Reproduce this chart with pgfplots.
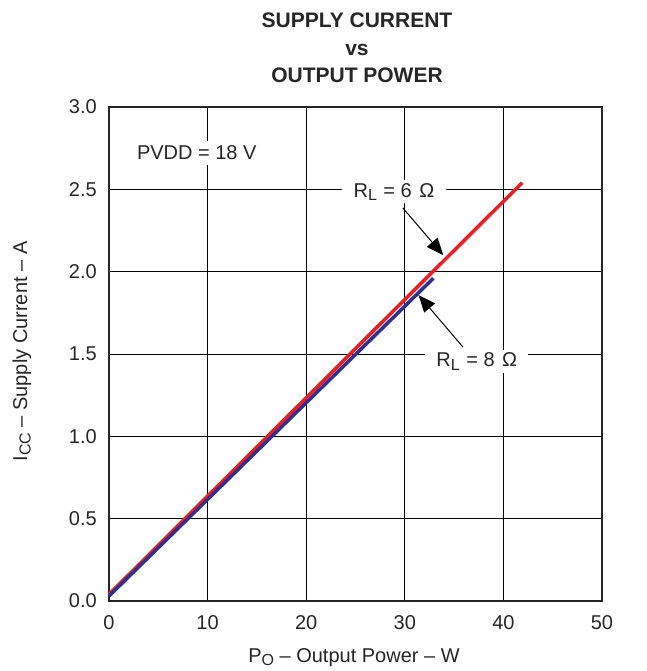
\documentclass[border=0pt]{standalone}
\usepackage{fontspec}
\setmainfont{Liberation Sans}
\usepackage{pgfplots}
\pgfplotsset{compat=1.18}
\usetikzlibrary{arrows.meta}
\definecolor{tired}{RGB}{236,30,36}
\definecolor{tiblue}{RGB}{46,49,146}
\newcommand{\sub}[1]{\raisebox{-0.32ex}{\fontsize{16bp}{18bp}\selectfont #1}}
\begin{document}
\begin{tikzpicture}
\useasboundingbox (-109bp,-70bp) rectangle (538bp,601bp);
\begin{axis}[
  at={(0,0)}, anchor=south west,
  scale only axis, width=493bp, height=494bp,
  xmin=0, xmax=50, ymin=0, ymax=3,
  xtick={0,10,20,30,40,50},
  ytick={0,0.5,1,1.5,2,2.5,3},
  yticklabels={0.0,0.5,1.0,1.5,2.0,2.5,3.0},
  major tick length=0pt,
  /pgf/number format/assume math mode=true,
  ticklabel style={font=\fontsize{20bp}{24bp}\selectfont, inner sep=0pt, text=black!85},
  xticklabel style={anchor=base, yshift=-28bp},
  yticklabel style={anchor=east, xshift=-12bp},
  grid=major,
  major grid style={black, line width=0.8bp},
  axis line style={line width=2.2bp, black!85},
  clip=false,
]
\addplot[tired, line width=3.5bp] coordinates {(0,0.04) (10,0.637) (20,1.234) (30,1.831) (41.9,2.54)};
\addplot[tiblue, line width=3.5bp] coordinates {(0,0.03) (10,0.617) (20,1.204) (32.9,1.96)};

\node[fill=white, inner xsep=6bp, inner ysep=5bp, font=\fontsize{20bp}{24bp}\selectfont, text=black!85] at (axis cs:8.9,2.72) {PVDD = 18 V};
\node[fill=white, inner xsep=12bp, inner ysep=3bp, font=\fontsize{20bp}{24bp}\selectfont, text=black!85] at (axis cs:28.9,2.485) {R\sub{L}\hspace{1bp} = 6\hspace{2bp} Ω};
\node[fill=white, inner xsep=11bp, inner ysep=3bp, font=\fontsize{20bp}{24bp}\selectfont, text=black!85] at (axis cs:37.3,1.455) {R\sub{L}\hspace{1bp} = 8\hspace{2bp} Ω};
\draw[black, line width=1bp, -{Triangle[length=17bp,width=14bp]}] (axis cs:29.8,2.387) -- (axis cs:33.9,2.10);
\draw[black, line width=1bp, -{Triangle[length=17bp,width=14bp]}] (axis cs:35.9,1.542) -- (axis cs:31.4,1.858);

\node[anchor=base, font=\bfseries\fontsize{21bp}{25bp}\selectfont, text=black!85] at ([yshift=79bp,xshift=1.5bp]rel axis cs:0.5,1) {SUPPLY CURRENT};
\node[anchor=base, font=\bfseries\fontsize{21bp}{25bp}\selectfont, text=black!85] at ([yshift=51bp,xshift=1.5bp]rel axis cs:0.5,1) {vs};
\node[anchor=base, font=\bfseries\fontsize{21bp}{25bp}\selectfont, text=black!85] at ([yshift=24bp,xshift=1.5bp]rel axis cs:0.5,1) {OUTPUT POWER};
\node[anchor=base, font=\fontsize{20bp}{24bp}\selectfont, text=black!85] at ([yshift=-61bp,xshift=-1.5bp]rel axis cs:0.5,0) {P\sub{O} – Output Power – W};
\node[rotate=90, font=\fontsize{20bp}{24bp}\selectfont, text=black!85] at ([xshift=-87bp]rel axis cs:0,0.505) {I\sub{CC} – Supply Current – A};
\end{axis}
\end{tikzpicture}
\end{document}
